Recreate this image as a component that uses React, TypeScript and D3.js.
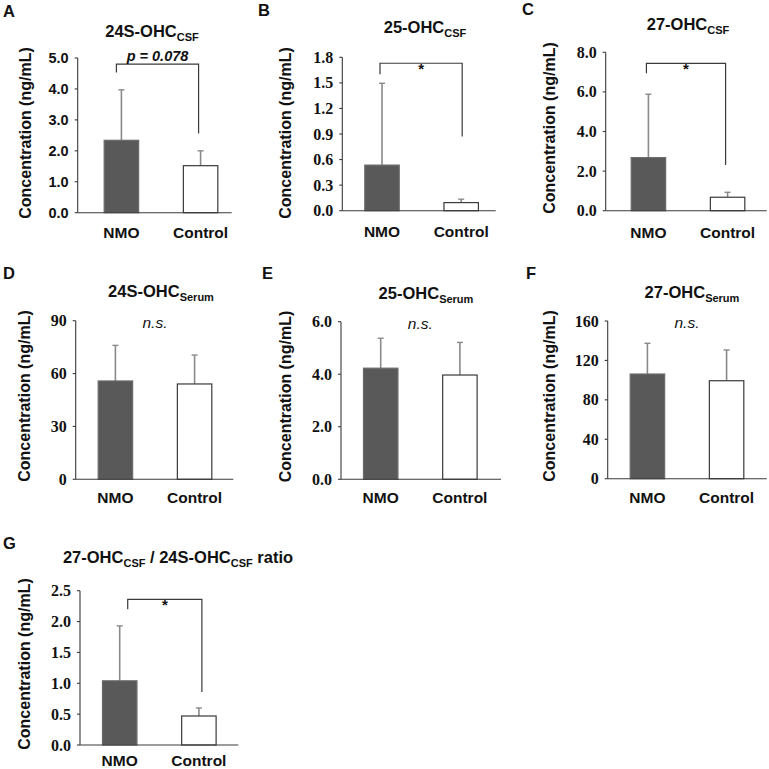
import React from "react";
import * as d3 from "d3";

// ---------- data ----------
const categories = ["NMO", "Control"];
const panelLetters = ["A", "B", "C", "D", "E", "F", "G"];
// title pieces: [text, isSubscript]
const titles: [string, boolean][][] = [
  [["24S-OHC", false], ["CSF", true]],
  [["25-OHC", false], ["CSF", true]],
  [["27-OHC", false], ["CSF", true]],
  [["24S-OHC", false], ["Serum", true]],
  [["25-OHC", false], ["Serum", true]],
  [["27-OHC", false], ["Serum", true]],
  [["27-OHC", false], ["CSF", true], [" / 24S-OHC", false], ["CSF", true], [" ratio", false]],
];
const meanA = [2.34, 1.52];
const sdA = [1.63, 0.48];
const meanB = [0.535, 0.095];
const sdB = [0.96, 0.04];
const meanC = [2.68, 0.68];
const sdC = [3.2, 0.25];
const meanD = [55.8, 54.1];
const sdD = [20.2, 16.4];
const meanE = [4.23, 3.97];
const sdE = [1.14, 1.24];
const meanF = [106.2, 99.4];
const sdF = [31.2, 31.2];
const meanG = [1.04, 0.47];
const sdG = [0.89, 0.13];
const means = [meanA, meanB, meanC, meanD, meanE, meanF, meanG];
const sds = [sdA, sdB, sdC, sdD, sdE, sdF, sdG];

const ticksA = [0, 1, 2, 3, 4, 5];
const ticksB = [0, 0.3, 0.6, 0.9, 1.2, 1.5, 1.8];
const ticksC = [0, 2, 4, 6, 8];
const ticksD = [0, 30, 60, 90];
const ticksE = [0, 2, 4, 6];
const ticksF = [0, 40, 80, 120, 160];
const ticksG = [0, 0.5, 1, 1.5, 2, 2.5];
const tickSets = [ticksA, ticksB, ticksC, ticksD, ticksE, ticksF, ticksG];
const tickDecimals = [1, 1, 1, 0, 1, 0, 1];

const annotations = ["p = 0.078", "*", "*", "n.s.", "n.s.", "n.s.", "*"];
// significance bracket: [left leg bottom, bracket top, right leg bottom] in data units
const brackets: (number[] | null)[] = [
  [4.53, 4.8, 2.56],
  [1.6, 1.73, 0.87],
  [6.94, 7.44, 2.31],
  null,
  null,
  null,
  [2.2, 2.36, 0.86],
];

// ---------- layout ----------
const layout = [
  { ax: 77.7, right: 231.7, top: 58, bottom: 212.7, shift: 4, lx: 3, ly: 17, tx: 152, ty: 37, ylx: 25.5, yly: 133, bl: -5, br: -2, xlab: 25, tickFont: "sans" },
  { ax: 342.3, right: 495.7, top: 57.3, bottom: 210.7, shift: 0, lx: 258, ly: 16, tx: 425, ty: 33, ylx: 285, yly: 133, bl: -2, br: 1, xlab: 26, tickFont: "serif" },
  { ax: 605.7, right: 766.7, top: 52.3, bottom: 210.7, shift: 3, lx: 522, ly: 15, tx: 688, ty: 30, ylx: 549.5, yly: 128, bl: -2, br: -2, xlab: 27, tickFont: "serif" },
  { ax: 75.7, right: 233.3, top: 320.7, bottom: 479.3, shift: 0, lx: 3, ly: 279, tx: 161, ty: 297, ylx: 24, yly: 396, bl: 0, br: 0, xlab: 24, tickFont: "serif" },
  { ax: 341, right: 501, top: 321.7, bottom: 479.3, shift: 0, lx: 262, ly: 279, tx: 426, ty: 299, ylx: 285, yly: 396.5, bl: 0, br: 0, xlab: 24, tickFont: "serif" },
  { ax: 607.7, right: 766.7, top: 321, bottom: 478.7, shift: 0, lx: 526, ly: 279, tx: 692, ty: 298, ylx: 549.5, yly: 396, bl: 0, br: 0, xlab: 24, tickFont: "serif" },
  { ax: 80, right: 238.3, top: 590.7, bottom: 745, shift: 0, lx: 3, ly: 549, tx: 178, ty: 563, ylx: 24.5, yly: 664, bl: 8, br: 3, xlab: 21, tickFont: "serif" },
];

const SANS = "Arial, 'Liberation Sans', Helvetica, sans-serif";
const SERIF = "'Liberation Serif', 'Times New Roman', 'DejaVu Serif', serif";
const AXIS = "#3a3a3a";
const BAR_FILL = ["#595959", "#ffffff"];
const ERR = "#8a8a8a";

function Panel({ i }: { i: number }) {
  const L = layout[i];
  const ticks = tickSets[i];
  const y = d3.scaleLinear().domain([0, ticks[ticks.length - 1]]).range([L.bottom, L.top]);
  const x = d3
    .scaleBand<string>()
    .domain(categories)
    .range([L.ax + L.shift, L.ax + L.shift + 158.6])
    .paddingInner(0.565)
    .paddingOuter(0.284);
  const bw = x.bandwidth();
  const fmt = d3.format(`.${tickDecimals[i]}f`);
  const br = brackets[i];
  const cx = (c: string) => (x(c) as number) + bw / 2;
  const ann = annotations[i];
  const isNs = ann === "n.s.";
  const isP = ann.startsWith("p");
  return (
    <g>
      <text x={L.lx} y={L.ly} fontFamily={SANS} fontWeight="bold" fontSize={16.5} fill="#111">
        {panelLetters[i]}
      </text>
      <text x={L.tx} y={L.ty} textAnchor="middle" fontFamily={SANS} fontWeight="bold" fontSize={16.5} fill="#111">
        {titles[i].map(([t, sub], k) => {
          const prevSub = k > 0 && titles[i][k - 1][1];
          const dy = sub ? 3.5 : prevSub ? -3.5 : 0;
          return (
            <tspan key={k} fontSize={sub ? 11 : 16.5} dy={dy}>
              {t}
            </tspan>
          );
        })}
      </text>
      <text
        transform={`translate(${L.ylx},${L.yly}) rotate(-90)`}
        textAnchor="middle"
        dominantBaseline="central"
        fontFamily={SANS}
        fontWeight="bold"
        fontSize={16}
        fill="#111"
      >
        Concentration (ng/mL)
      </text>
      {/* bars */}
      {categories.map((c, k) => {
        const m = means[i][k];
        const s = sds[i][k];
        const xc = cx(c);
        return (
          <g key={c}>
            <line x1={xc} x2={xc} y1={y(m)} y2={y(m + s)} stroke={ERR} strokeWidth={1.6} />
            <line x1={xc - 3} x2={xc + 3} y1={y(m + s)} y2={y(m + s)} stroke={ERR} strokeWidth={1.4} />
            <rect
              x={x(c)}
              y={y(m)}
              width={bw}
              height={L.bottom - y(m)}
              fill={BAR_FILL[k]}
              stroke={k === 0 ? "#6a6a6a" : "#3a3a3a"}
              strokeWidth={1.2}
            />
          </g>
        );
      })}
      {/* axes */}
      <line x1={L.ax} x2={L.ax} y1={L.top} y2={L.bottom} stroke={AXIS} strokeWidth={1.1} />
      <line x1={L.ax} x2={L.right} y1={L.bottom} y2={L.bottom} stroke={AXIS} strokeWidth={1.1} />
      {ticks.map((t) => (
        <g key={t}>
          <line x1={L.ax - 3} x2={L.ax} y1={y(t)} y2={y(t)} stroke={AXIS} strokeWidth={1.1} />
          <text
            x={L.ax - 9}
            y={y(t)}
            textAnchor="end"
            dominantBaseline="central"
            fontFamily={L.tickFont === "sans" ? SANS : SERIF}
            fontWeight="bold"
            fontSize={L.tickFont === "sans" ? 14.5 : 16}
            fill="#111"
          >
            {fmt(t)}
          </text>
        </g>
      ))}
      {categories.map((c) => (
        <text
          key={c}
          x={cx(c)}
          y={L.bottom + L.xlab}
          textAnchor="middle"
          fontFamily={SANS}
          fontWeight="bold"
          fontSize={15.5}
          fill="#111"
        >
          {c}
        </text>
      ))}
      {/* annotation */}
      {br && (
        <path
          d={`M${cx(categories[0]) + L.bl},${y(br[0])}V${y(br[1])}H${cx(categories[1]) + L.br}V${y(br[2])}`}
          fill="none"
          stroke={AXIS}
          strokeWidth={1.2}
        />
      )}
      {isNs && (
        <text
          x={(cx(categories[0]) + cx(categories[1])) / 2}
          y={y(ticks[ticks.length - 1]) + 7}
          textAnchor="middle"
          fontFamily={SANS}
          fontStyle="italic"
          fontSize={15.5}
          fill="#111"
        >
          {ann}
        </text>
      )}
      {br && (
        <text
          x={(cx(categories[0]) + L.bl + cx(categories[1]) + L.br) / 2}
          y={y(br[1]) + (isP ? -3 : 11)}
          textAnchor="middle"
          fontFamily={SANS}
          fontWeight="bold"
          fontStyle={isP ? "italic" : "normal"}
          fontSize={isP ? 14.5 : 15}
          fill="#111"
        >
          {ann}
        </text>
      )}
    </g>
  );
}

export default function App() {
  return (
    <svg
      width={769}
      height={769}
      viewBox="0 0 769 769"
      style={{ position: "absolute", left: 0, top: 0, background: "#fff" }}
    >
      <rect width={769} height={769} fill="#fff" />
      {layout.map((_, i) => (
        <Panel key={i} i={i} />
      ))}
    </svg>
  );
}
